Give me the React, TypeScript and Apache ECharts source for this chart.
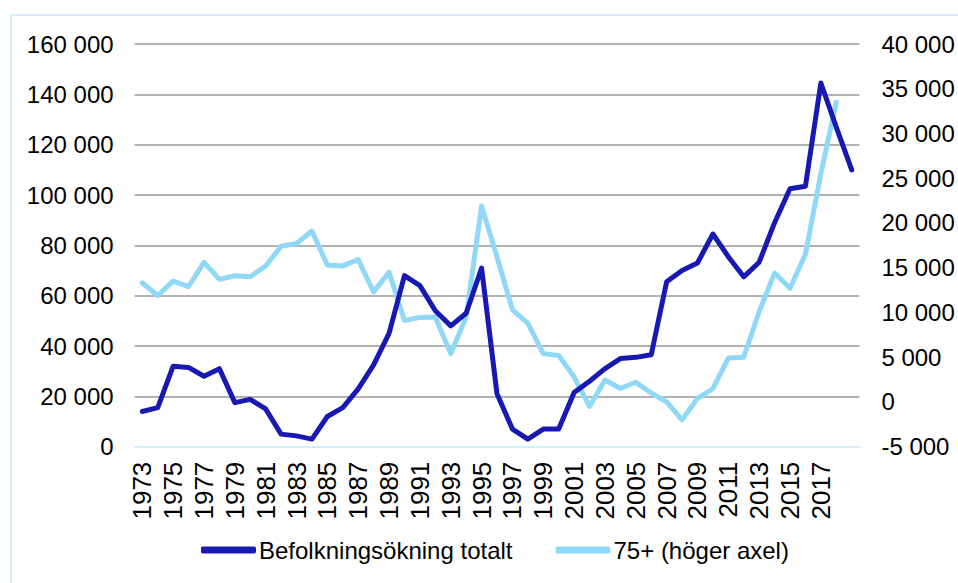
import React, { useEffect, useRef } from "react";
import * as echarts from "echarts";

const years: string[] = [];
for (let y = 1973; y <= 2019; y++) years.push(String(y));

const totalGrowth = [
  14000, 15500, 32000, 31500, 28000, 31000, 17500, 18800, 15000, 5000,
  4300, 3000, 12000, 15500, 23000, 32500, 45000, 68000, 64000, 54000,
  48000, 53000, 71000, 21000, 7000, 3000, 7000, 7000, 21500, 26000,
  31000, 35000, 35500, 36500, 65500, 70000, 73000, 84500, 75500, 67500,
  73300, 89000, 102500, 103500, 144500, 127000, 110000,
];

const age75plus = [
  13300, 11900, 13500, 12900, 15600, 13700, 14100, 14000, 15200, 17400,
  17700, 19100, 15300, 15200, 15900, 12300, 14500, 9100, 9450, 9500,
  5400, 9500, 21900, 16200, 10300, 8800, 5400, 5200, 2800, -500,
  2450, 1500, 2200, 1000, 0, -2000, 400, 1500, 4900, 5000,
  10100, 14400, 12700, 16500, 25500, 33500,
];

const seriesNames = ["Befolkningsökning totalt", "75+ (höger axel)"];

const fmt = (v: number) => {
  const s = String(Math.abs(v)).replace(/\B(?=(\d{3})+(?!\d))/g, " ");
  return (v < 0 ? "-" : "") + s;
};

const FONT = "Liberation Sans, Arial, sans-serif";

export default function App() {
  const ref = useRef<HTMLDivElement>(null);
  useEffect(() => {
    if (!ref.current) return;
    const chart = echarts.init(ref.current, null, { renderer: "svg" });
    chart.setOption({
      animation: false,
      backgroundColor: "#ffffff",
      textStyle: { fontFamily: FONT },
      graphic: [
        {
          type: "rect",
          shape: { x: 11, y: 15, width: 960, height: 580 },
          style: { fill: "none", stroke: "#d8eef9", lineWidth: 2 },
          silent: true,
        },
      ],
      grid: { left: 134.6, right: 98.6, top: 44, bottom: 136.3, containLabel: false },
      legend: {
        bottom: 16,
        left: 196,
        icon: "roundRect",
        itemWidth: 55,
        itemHeight: 7,
        itemGap: 43,
        textStyle: { fontFamily: FONT, fontSize: 24, color: "#000", padding: [0, 0, 0, -2] },
        data: seriesNames,
      },
      xAxis: {
        type: "category",
        data: years,
        boundaryGap: true,
        axisLine: { lineStyle: { color: "#d4eef9", width: 2 } },
        axisTick: { show: false },
        axisLabel: {
          rotate: 90,
          margin: 15,
          fontFamily: FONT,
          fontSize: 26,
          color: "#000",
          interval: (i: number) => i % 2 === 0 && i < 46,
        },
      },
      yAxis: [
        {
          type: "value",
          min: 0,
          max: 160000,
          interval: 20000,
          axisLine: { show: false },
          axisTick: { show: false },
          splitLine: { lineStyle: { color: "#999999", width: 1.5 } },
          axisLabel: { margin: 21, fontFamily: FONT, fontSize: 24, color: "#000", formatter: fmt },
        },
        {
          type: "value",
          min: -5000,
          max: 40000,
          interval: 5000,
          position: "right",
          axisLine: { show: false },
          axisTick: { show: false },
          splitLine: { show: false },
          axisLabel: { margin: 22, fontFamily: FONT, fontSize: 24, color: "#000", formatter: fmt },
        },
      ],
      series: [
        {
          name: seriesNames[0],
          type: "line",
          data: totalGrowth,
          yAxisIndex: 0,
          symbol: "none",
          lineStyle: { color: "#1818b2", width: 5, cap: "round", join: "round" },
          itemStyle: { color: "#1818b2" },
          z: 3,
        },
        {
          name: seriesNames[1],
          type: "line",
          data: age75plus,
          yAxisIndex: 1,
          symbol: "none",
          lineStyle: { color: "#8fd8f8", width: 5, cap: "round", join: "round" },
          itemStyle: { color: "#8fd8f8" },
          z: 2,
        },
      ],
    });
    return () => chart.dispose();
  }, []);
  return (
    <div
      ref={ref}
      style={{ position: "fixed", left: 0, top: 0, width: 958, height: 583, background: "#fff" }}
    />
  );
}
